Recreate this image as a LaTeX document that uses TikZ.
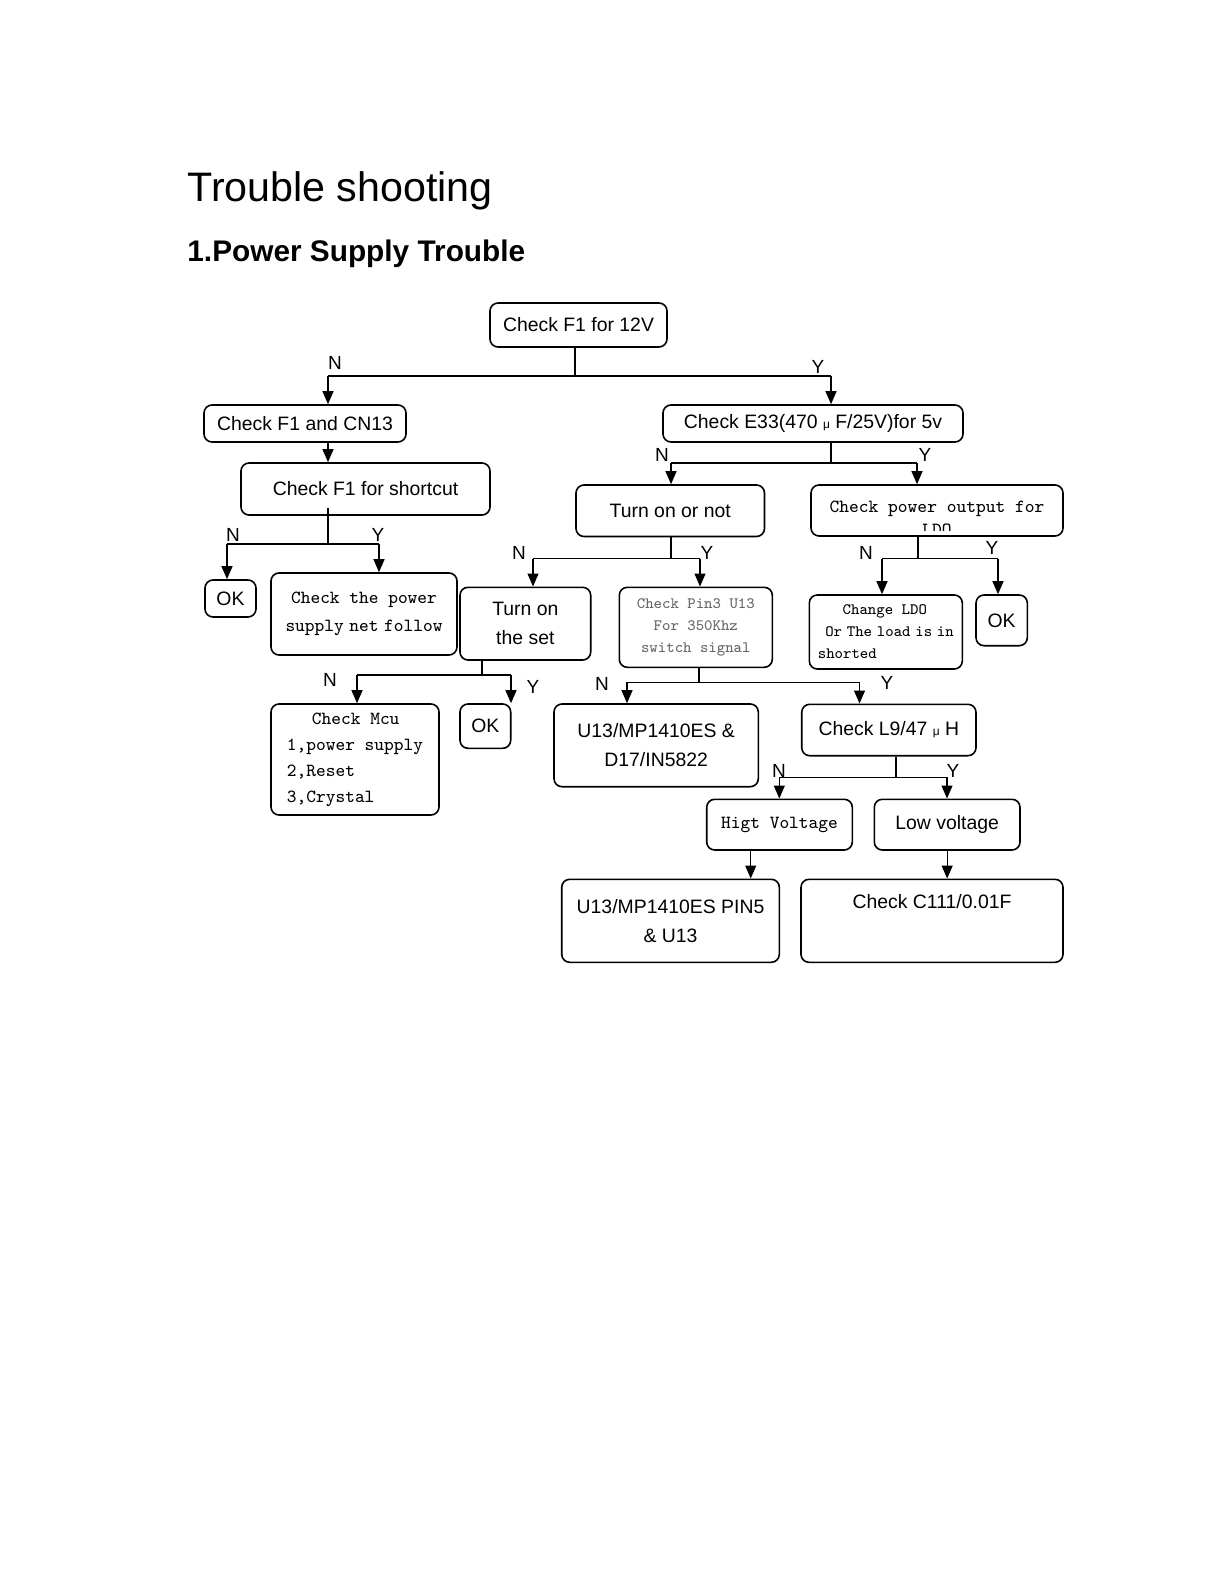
\documentclass[tikz,border=0pt]{standalone}
\usepackage{fontspec}
\setmainfont{Liberation Sans}
\usetikzlibrary{arrows.meta}

\newcommand\simfont{\ttfamily}
\newcommand\boxtxt{\fontsize{9.7}{14.7}\selectfont}
\newcommand\simtxt{\simfont\fontsize{9.26}{13}\selectfont}
\newcommand\simsmall{\simfont\fontsize{7.93}{11}\selectfont}
\newcommand\mic{{\fontsize{6}{6}\selectfont μ}}
\newcommand\halfsp{\hspace{.3em}}

\tikzset{
  box/.style={draw, rounded corners=4pt, line width=0.8pt, inner sep=0pt, align=center, font=\boxtxt},
  mono/.style={box, font=\simtxt},
  wh/.style 2 args={minimum width=#1*0.5pt, minimum height=#2*0.5pt},
  conn/.style={line width=0.65pt},
  arr/.style={conn, -{Triangle[width=5.5pt,length=6.5pt]}},
  yn/.style={inner sep=0pt, font=\fontsize{9.5}{10}\selectfont}
}

\begin{document}
\begin{tikzpicture}[x=0.5pt, y=-0.5pt]
  \useasboundingbox (0,0) rectangle (1219,1582);
  \fill[white] (0,0) rectangle (1219,1582);

  \node[anchor=base west, inner sep=0pt, font=\fontsize{20.6}{24}\selectfont] (title) at (187,202) {Trouble shooting};
  \node[anchor=base west, inner sep=0pt, font=\bfseries\fontsize{14.9}{17}\selectfont] (subtitle) at (187,262) {1.Power Supply Trouble};

  % boxes: centre, then width and height
  \node[box, wh={177}{44}] (f12) at (578.5,325) {Check F1 for 12V};
  \node[box, wh={202}{37}] (cn13) at (305,423.5) {Check F1 and CN13};
  \node[box, wh={300}{37}] (e33) at (813,423.5) {Check E33(470 \mic{} F/25V)for 5v};
  \node[box, wh={249}{52}] (shortcut) at (365.5,489) {Check F1 for shortcut};
  \node[box, wh={188.5}{51.5}] (turnon) at (670.25,510.75) {Turn on or not};
  \node[box, wh={252}{51}] (ldo) at (937,510.5) {};
  \node[box, wh={51}{37}] (ok1) at (230.5,598.5) {OK};
  \node[mono, wh={186}{82}, font={\simfont\fontsize{9.26}{14.3}\selectfont}] (net) at (364,614) {Check the power\\supply\halfsp net\halfsp follow};
  \node[box, wh={130.7}{72.7}] (turnset) at (525.35,623.65) {Turn on\\the set};
  \node[mono, wh={153}{80}, font=\simsmall, text=black!60] (pin3) at (695.8,627.3) {Check Pin3 U13\\For 350Khz\\switch signal};
  \node[mono, wh={153}{74}, font=\simsmall, align=left] (chldo) at (885.8,632) {\hspace*{1.57em}Change LDO\\\hspace*{0.47em}Or\halfsp The\halfsp load\halfsp is\halfsp in\\shorted};
  \node[box, wh={51.3}{50.7}] (ok3) at (1001.65,620.35) {OK};
  \node[mono, wh={168}{111}, align=left] (mcu) at (355,759.5) {\hspace*{1.35em}Check Mcu\\1,power supply\\2,Reset\\3,Crystal};
  \node[box, wh={50.7}{44.3}] (ok2) at (485.35,726.15) {OK};
  \node[box, wh={204.3}{82.7}] (u13d17) at (656.15,745.35) {U13/MP1410ES \&\\D17/IN5822};
  \node[box, wh={174.3}{51.4}] (l9) at (888.85,730) {Check L9/47 \mic{} H};
  \node[mono, wh={145.6}{50.7}] (higt) at (779.5,824.65) {Higt Voltage};
  \node[box, wh={145.7}{50.7}] (low) at (947.15,824.65) {Low voltage};
  \node[box, wh={217.6}{83}] (pin5) at (670.5,920.8) {U13/MP1410ES PIN5\\\& U13};
  \node[box, wh={262}{83}] (c111) at (932,920.8) {Check C111/0.01F\\\strut};

  % text of the LDO box, cut off at its lower edge
  \begin{scope}
    \clip (ldo.north west) rectangle ([yshift=3pt]ldo.south east);
    \node[inner sep=0pt, align=center, font={\simfont\fontsize{9.3}{11.5}\selectfont}] (ldotxt) at (937,518) {Check power output for\\LDO};
  \end{scope}

  % N/Y splits: parent/stem x/bar y/N x/Y x/N child/Y child
  \foreach \p/\sx/\by/\nx/\yx/\nc/\yc in {
      f12/575/376/328/831/cn13/e33,
      shortcut/328/544/227/379/ok1/net,
      e33/831/463/671/917/turnon/ldo,
      turnon/671/558.5/533/700/turnset/pin3,
      ldo/918/558.5/882/998/chldo/ok3,
      turnset/482/675/357/511/mcu/ok2,
      pin3/699/682.3/627/859.5/u13d17/l9,
      l9/896/777.3/779.3/947/higt/low}
  {
    \coordinate (j\p) at (\sx,\by);
    \coordinate (n\p) at (\nx,\by);
    \coordinate (y\p) at (\yx,\by);
    \draw[conn] (\p.south -| j\p) -- (j\p);
    \draw[conn] (n\p) -- (y\p);
    \draw[arr] (n\p) -- (n\p |- \nc.north);
    \draw[arr] (y\p) -- (y\p |- \yc.north);
  }
  \draw[conn, line width=1pt] (nf12) -- (yf12);
  \draw[conn] (shortcut.south -| jshortcut) -- ++(0,-8);

  \draw[arr] (cn13.south -| nf12) -- (shortcut.north -| nf12);
  \coordinate (hvx) at (750.7,0);
  \draw[arr] (higt.south -| hvx) -- (pin5.north -| hvx);
  \draw[arr] (low.south) -- (low.south |- c111.north);

  \foreach \t/\x/\y [count=\i] in {N/335/363, Y/818/367, N/233/535, Y/378/535,
      N/662/455, Y/925/455, N/519/553, Y/707/553, N/866/553, Y/992/548,
      N/330/680, Y/533/687, N/602/684, Y/887/683, N/779/771, Y/953/771}
    \node[yn] (lab\i) at (\x,\y) {\t};
\end{tikzpicture}
\end{document}
